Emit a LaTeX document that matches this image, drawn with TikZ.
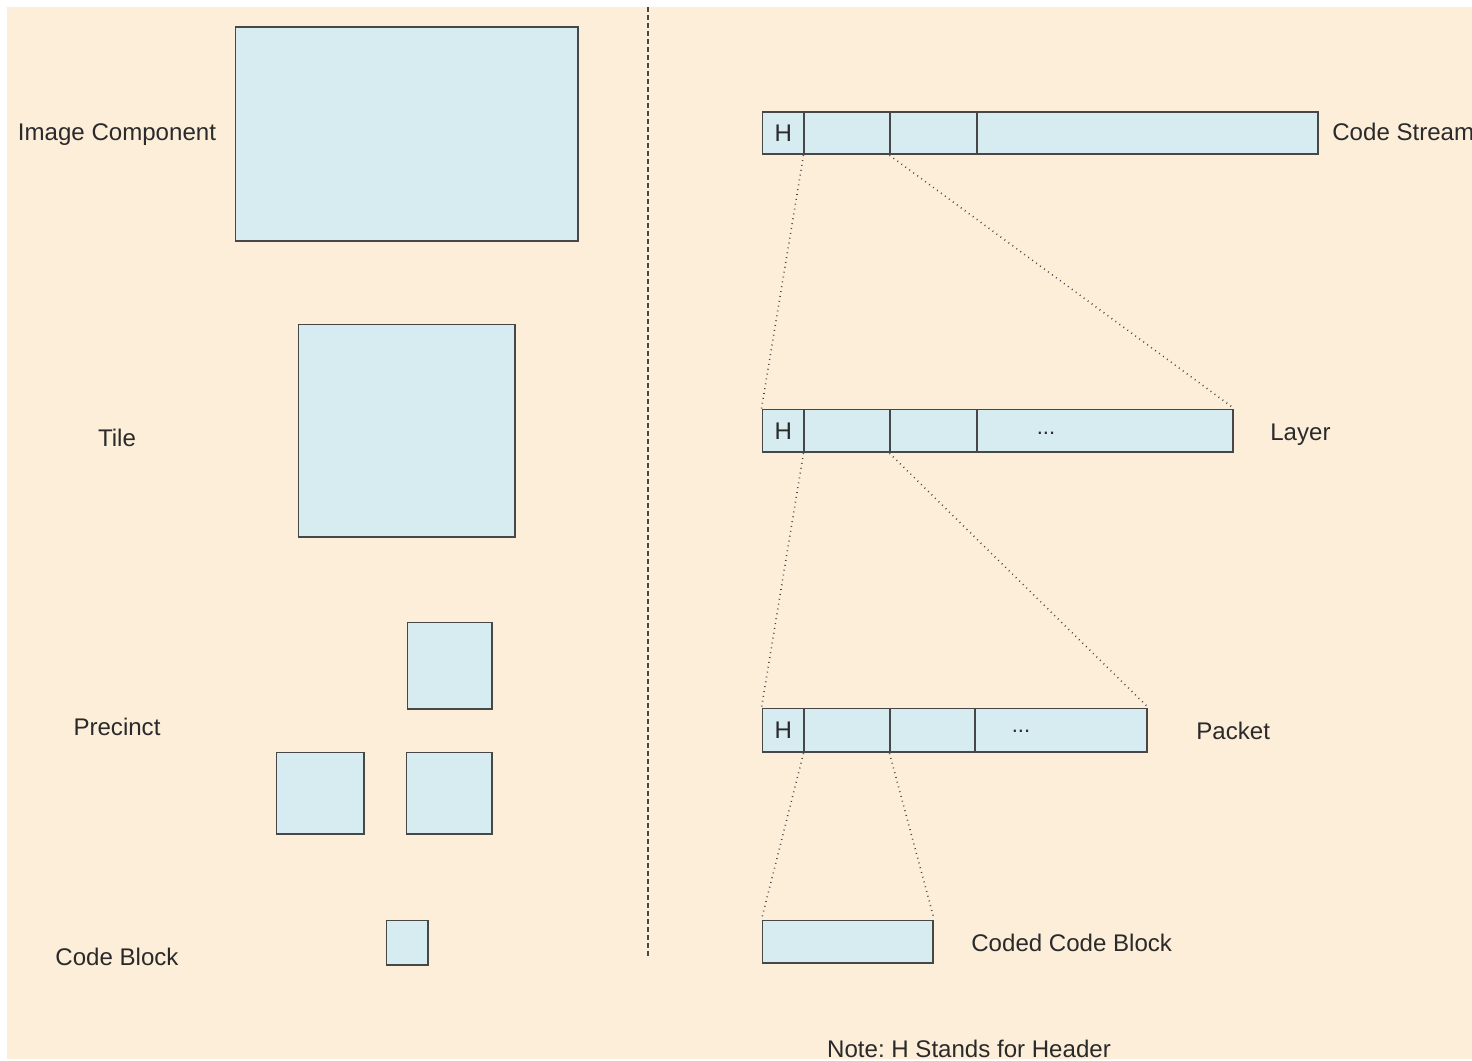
\documentclass[tikz,border=0pt]{standalone}
\usepackage{fontspec}
\setmainfont{Liberation Sans}
\definecolor{paper}{HTML}{FDEEDA}
\definecolor{cellfill}{HTML}{D6ECF1}
\definecolor{edge}{HTML}{474747}
\definecolor{ink}{HTML}{2A2A2A}
\frenchspacing
\begin{document}
\begin{tikzpicture}[
        x=0.02cm, y=-0.02cm,
        every node/.style={font=\fontsize{13.7pt}{16pt}\selectfont, text=ink},
        cell/.style={
            draw=edge,
            fill=cellfill,
            line width=1pt,
            anchor=north west,
            inner sep=0pt
        },
        tag/.style={anchor=west, inner sep=0pt, text height=9.8pt, text depth=0pt},
        side/.style={inner sep=0pt, text height=9.8pt, text depth=0pt},
        dots/.style={inner sep=0pt, font=\fontsize{12.5pt}{14pt}\selectfont},
        link/.style={draw=edge, line width=0.9pt, dash pattern=on 0.5pt off 2.3pt}
    ]

    % Page
    \useasboundingbox (0,0) rectangle (1472,1061);
    \fill[paper] (7,7) rectangle (1472,1059);

    % Left: image partitions
    \node[cell, minimum width=6.86cm, minimum height=4.28cm] (ic) at (234.5,26.5) {};
    \node[cell, minimum width=4.34cm, minimum height=4.26cm] (tile) at (297.5,323.5) {};
    \node[cell, minimum width=1.70cm, minimum height=1.74cm] (pr1) at (406.5,621.5) {};
    \node[cell, minimum width=1.76cm, minimum height=1.64cm] (pr2) at (275.5,751.5) {};
    \node[cell, minimum width=1.72cm, minimum height=1.64cm] (pr3) at (405.5,751.5) {};
    \node[cell, minimum width=0.84cm, minimum height=0.90cm] (cb) at (385.5,919.5) {};

    \node[side] (lic) at (117,132) {Image Component};
    \node[side] (ltile) at (117,438) {Tile};
    \node[side] (lpr) at (117,727) {Precinct};
    \node[side] (lcb) at (117,957) {Code Block};

    % Separator
    \coordinate (septop) at (648,7);
    \coordinate (sepbot) at (648,958);
    \draw[edge, line width=0.9pt, dash pattern=on 0.1cm off 0.06cm] (septop) -- (sepbot);

    % Code stream
    \node[cell, minimum width=0.84cm, minimum height=0.84cm] (cs0) at (761.5,111.5) {H};
    \node[cell, minimum width=1.72cm, minimum height=0.84cm] (cs1) at (803.5,111.5) {};
    \node[cell, minimum width=1.74cm, minimum height=0.84cm] (cs2) at (889.5,111.5) {};
    \node[cell, minimum width=6.82cm, minimum height=0.84cm] (cs3) at (976.5,111.5) {};
    \node[tag] (lcs) at (1332,132) {Code Stream};

    % Layer
    \node[cell, minimum width=0.84cm, minimum height=0.86cm] (ly0) at (761.5,408.5) {H};
    \node[cell, minimum width=1.72cm, minimum height=0.86cm] (ly1) at (803.5,408.5) {};
    \node[cell, minimum width=1.74cm, minimum height=0.86cm] (ly2) at (889.5,408.5) {};
    \node[cell, minimum width=5.12cm, minimum height=0.86cm] (ly3) at (976.5,408.5) {};
    \node[dots] (lydots) at (1046,433) {...};
    \node[tag] (lly) at (1270,432) {Layer};

    % Packet
    \node[cell, minimum width=0.84cm, minimum height=0.88cm] (pk0) at (761.5,707.5) {H};
    \node[cell, minimum width=1.72cm, minimum height=0.88cm] (pk1) at (803.5,707.5) {};
    \node[cell, minimum width=1.70cm, minimum height=0.88cm] (pk2) at (889.5,707.5) {};
    \node[cell, minimum width=3.44cm, minimum height=0.88cm] (pk3) at (974.5,707.5) {};
    \node[dots] (pkdots) at (1021,731) {...};
    \node[tag] (lpk) at (1196,731) {Packet};

    % Coded code block
    \node[cell, minimum width=3.42cm, minimum height=0.86cm] (ccb) at (761.5,919.5) {};
    \node[tag] (lccb) at (971,943) {Coded Code Block};

    % Expansion lines
    \draw[link] (cs1.south west) -- (ly0.north west);
    \draw[link] (cs2.south west) -- (ly3.north east);
    \draw[link] (ly1.south west) -- (pk0.north west);
    \draw[link] (ly2.south west) -- (pk3.north east);
    \draw[link] (pk1.south west) -- (ccb.north west);
    \draw[link] (pk2.south west) -- (ccb.north east);

    % Note
    \node[side] (note) at (969,1049) {Note: H Stands for Header};

    \end{tikzpicture}
\end{document}
